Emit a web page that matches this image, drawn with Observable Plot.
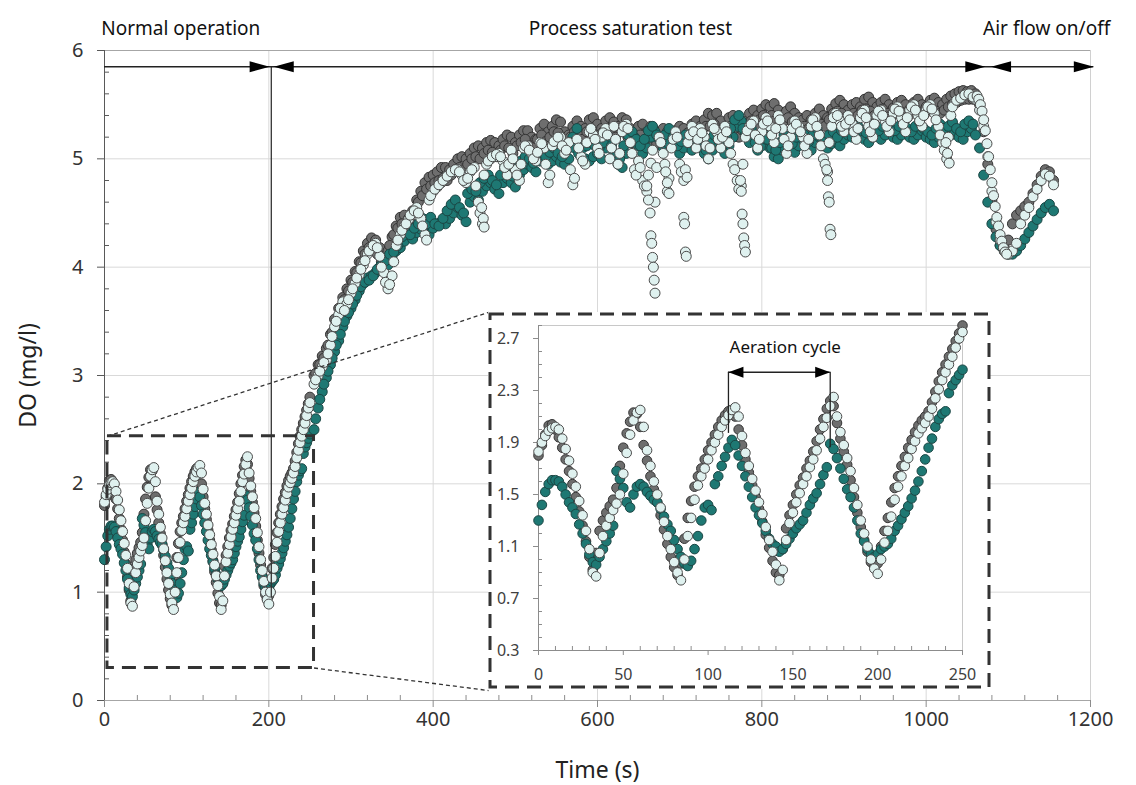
<!DOCTYPE html>
<html><head><meta charset="utf-8">
<script src="https://cdn.jsdelivr.net/npm/d3@7"></script>
<script src="https://cdn.jsdelivr.net/npm/@observablehq/plot@0.6"></script>
<style>
body{margin:0;background:#fff;}
#wrap{position:relative;width:1136px;height:785px;font-family:"Noto Sans",sans-serif;background:#fff;}
#wrap svg{position:absolute;}
</style></head><body><div id="wrap"></div>
<script>
// ---------- DATA ----------
// sample times (s)
const tA = d3.range(0, 251, 2);      // 0..250, every 2 s
const tB = d3.range(255, 1156, 5);   // 255..1155, every 5 s
const tC = d3.range(257, 1058, 5);   // 257..1057, in-between readings

// light (white-blue) series
const lightA = [
1.83,1.90,1.95,1.99,2.01,2.02,2.00,1.93,1.85,1.76,
1.66,1.56,1.45,1.34,1.22,1.08,0.90,0.87,1.05,1.18,
1.26,1.32,1.38,1.43,1.50,1.66,1.82,1.96,2.07,2.13,
2.15,2.02,1.84,1.72,1.60,1.50,1.40,1.29,1.18,1.08,
0.98,0.90,0.84,1.00,1.18,1.32,1.46,1.57,1.64,1.70,
1.77,1.84,1.90,1.96,2.02,2.07,2.11,2.15,2.17,2.10,
1.95,1.82,1.72,1.62,1.53,1.44,1.35,1.25,1.15,1.06,
0.96,0.84,0.92,1.15,1.28,1.36,1.44,1.51,1.58,1.64,
1.71,1.77,1.84,1.93,2.02,2.09,2.18,2.25,2.10,1.98,
1.88,1.78,1.68,1.55,1.42,1.30,1.20,1.10,1.00,0.93,
0.89,1.00,1.13,1.22,1.33,1.46,1.56,1.64,1.72,1.78,
1.85,1.91,1.97,2.01,2.05,2.10,2.16,2.24,2.31,2.38,
2.44,2.50,2.56,2.63,2.70,2.75];
const lightB = [
2.92,3.00,3.08,3.14,3.28,3.45,3.56,3.68,3.66,3.76,
3.85,3.93,4.02,4.12,4.18,4.22,4.10,3.95,3.80,3.92,
4.20,4.30,4.38,4.44,4.50,4.55,4.45,4.30,4.62,4.70,
4.74,4.78,4.82,4.86,4.88,4.90,4.85,4.78,4.88,4.92,
4.60,4.40,4.95,5.00,5.02,5.05,4.98,4.85,5.08,4.90,
4.80,5.10,5.12,5.05,4.98,5.15,5.10,4.78,5.12,5.18,
5.20,5.05,5.15,4.76,5.18,5.02,4.95,5.25,5.22,5.10,
5.20,5.28,5.00,5.30,4.95,5.25,5.32,5.15,4.90,4.98,
4.80,4.70,4.96,4.60,5.20,5.05,4.70,5.10,5.25,4.95,
4.80,5.15,5.30,5.10,5.28,5.20,5.00,5.32,5.25,5.10,
5.30,5.15,4.95,4.80,4.75,5.20,5.30,5.35,5.10,5.25,
5.38,5.30,5.15,5.40,5.28,5.05,5.20,5.35,5.30,5.20,
5.05,5.30,5.38,5.22,5.00,4.88,5.30,5.42,5.35,5.25,
5.40,5.32,5.18,5.38,5.45,5.30,5.20,5.40,5.45,5.35,
5.25,5.42,5.48,5.38,5.25,5.45,5.50,5.40,5.30,5.45,
5.50,5.42,5.30,5.15,5.00,5.40,5.52,5.55,5.58,5.60,
5.58,5.55,5.45,5.30,5.02,4.70,4.42,4.25,4.15,4.12,
4.15,4.22,4.40,4.48,4.55,4.65,4.72,4.80,4.86,4.84,
4.76];
const lightC = [
2.96,3.04,3.12,3.20,3.36,3.50,3.62,3.60,3.70,3.80,
3.90,3.98,4.06,4.15,4.20,4.18,4.00,3.86,3.84,4.05,
4.25,4.34,4.40,4.48,4.52,4.50,4.38,4.25,4.66,4.72,
4.76,4.80,4.84,4.88,4.90,4.88,4.80,4.82,4.90,4.75,
4.50,4.85,4.98,5.02,5.04,5.02,4.92,4.95,5.00,4.85,
4.95,5.12,5.08,5.00,5.06,5.14,4.95,4.85,5.16,5.20,
5.12,5.08,4.90,4.82,5.10,4.98,5.15,5.28,5.18,5.05,
5.24,5.22,5.10,5.18,5.05,5.30,5.28,5.05,4.85,4.92,
4.75,4.85,5.08,4.92,5.15,4.95,4.82,5.18,5.20,4.88,
4.90,5.22,5.25,5.18,5.24,5.12,5.10,5.28,5.18,5.20,
5.25,5.05,4.90,4.72,4.95,5.26,5.32,5.22,5.18,5.32,
5.35,5.22,5.28,5.36,5.18,5.12,5.28,5.32,5.25,5.12,
5.18,5.36,5.30,5.12,4.95,5.15,5.38,5.40,5.30,5.32,
5.36,5.25,5.28,5.42,5.38,5.25,5.32,5.44,5.40,5.30,
5.35,5.46,5.44,5.32,5.38,5.48,5.45,5.35,5.40,5.48,
5.46,5.36,5.22,5.08,5.20,5.48,5.54,5.56,5.59,5.60,
5.57];
// extra light readings in the fast dips / drop
const lightExtraT = [459,461,462, 660,662,664,665,666,667,668,669,670, 683,685,687,
  705,706,707,708,709, 774,775,776,777,778,779,780, 879,880,881,882,883,884, 1024,1026,1028,
  1062,1064,1066,1068,1070,1072,1074,1076,1078,1080,1082,1084,1086,1088,1090,1092,1094,1096,1098];
const lightExtraY = [4.55,4.45,4.37, 4.75,4.62,4.50,4.29,4.22,4.09,4.00,3.88,3.76, 4.88,4.78,4.68,
  4.46,4.40,4.14,4.10,4.83, 4.80,4.70,4.49,4.40,4.27,4.20,4.14, 4.90,4.80,4.65,4.60,4.35,4.30, 5.15,5.05,4.96,
  5.58,5.55,5.50,5.44,5.36,5.26,5.14,5.02,4.90,4.78,4.66,4.56,4.46,4.38,4.30,4.24,4.18,4.14,4.12];

// dark gray series
const grayA = [
1.80,1.88,1.96,2.03,2.04,2.00,1.94,1.86,1.77,1.68,
1.58,1.48,1.37,1.26,1.14,1.02,0.92,1.05,1.22,1.30,
1.36,1.41,1.46,1.55,1.72,1.86,1.97,2.06,2.13,2.12,
2.02,1.88,1.76,1.64,1.54,1.44,1.34,1.23,1.12,1.02,
0.94,0.88,0.97,1.16,1.32,1.45,1.56,1.64,1.70,1.77,
1.84,1.90,1.96,2.02,2.07,2.11,2.14,2.15,2.10,2.00,
1.88,1.77,1.67,1.57,1.48,1.39,1.29,1.19,1.09,0.99,
0.90,0.88,1.08,1.24,1.34,1.42,1.50,1.57,1.63,1.70,
1.76,1.83,1.91,2.00,2.08,2.16,2.22,2.18,2.05,1.93,
1.83,1.73,1.61,1.48,1.36,1.25,1.15,1.06,0.98,0.94,
0.97,1.10,1.22,1.32,1.44,1.55,1.64,1.72,1.79,1.86,
1.92,1.98,2.03,2.07,2.10,2.14,2.21,2.29,2.37,2.44,
2.50,2.56,2.62,2.68,2.74,2.80];
const grayB = [
3.00,3.10,3.18,3.25,3.38,3.52,3.62,3.72,3.80,3.88,
3.96,4.05,4.15,4.22,4.27,4.25,4.18,4.10,4.15,4.28,
4.38,4.46,4.48,4.45,4.52,4.62,4.70,4.78,4.83,4.85,
4.88,4.92,4.92,4.90,4.95,5.00,5.02,5.00,5.05,5.10,
5.12,5.10,5.15,5.17,5.15,5.12,5.18,5.22,5.20,5.15,
5.22,5.26,5.26,5.20,5.18,5.28,5.32,5.25,5.30,5.36,
5.34,5.25,5.22,5.30,5.35,5.30,5.28,5.36,5.38,5.32,
5.28,5.35,5.38,5.34,5.30,5.38,5.36,5.28,5.25,5.30,
5.32,5.25,5.30,5.26,5.22,5.28,5.25,5.20,5.26,5.30,
5.28,5.24,5.32,5.35,5.30,5.36,5.42,5.40,5.42,5.35,
5.30,5.38,5.40,5.32,5.28,5.35,5.42,5.45,5.40,5.46,
5.50,5.48,5.51,5.45,5.40,5.44,5.48,5.42,5.38,5.36,
5.40,5.36,5.42,5.46,5.40,5.38,5.46,5.51,5.54,5.50,
5.45,5.50,5.52,5.48,5.55,5.57,5.52,5.48,5.52,5.55,
5.50,5.47,5.52,5.54,5.50,5.46,5.52,5.55,5.50,5.48,
5.54,5.56,5.52,5.50,5.55,5.58,5.60,5.62,5.63,5.62,
5.63,5.60,5.50,5.25,4.95,4.62,4.35,4.20,4.18,4.25,
4.40,4.48,4.52,4.56,4.60,4.68,4.76,4.84,4.90,4.88,
4.80];
const grayC = [
3.02,3.10,3.16,3.28,3.40,3.50,3.62,3.70,3.78,3.86,
3.95,4.04,4.12,4.18,4.20,4.12,4.05,4.08,4.20,4.30,
4.36,4.40,4.36,4.42,4.52,4.60,4.66,4.72,4.75,4.78,
4.80,4.82,4.80,4.85,4.90,4.92,4.90,4.95,5.00,5.02,
5.00,5.05,5.08,5.06,5.02,5.08,5.12,5.10,5.05,5.12,
5.15,5.18,5.12,5.10,5.18,5.22,5.16,5.20,5.25,5.24,
5.18,5.12,5.20,5.25,5.22,5.18,5.25,5.28,5.22,5.18,
5.25,5.28,5.24,5.20,5.28,5.26,5.20,5.15,5.20,5.22,
5.16,5.20,5.18,5.14,5.18,5.15,5.12,5.18,5.20,5.18,
5.15,5.22,5.25,5.22,5.26,5.30,5.30,5.32,5.26,5.22,
5.26,5.30,5.24,5.20,5.26,5.32,5.35,5.30,5.36,5.40,
5.38,5.40,5.36,5.32,5.35,5.38,5.34,5.30,5.28,5.30,
5.28,5.32,5.36,5.32,5.30,5.36,5.42,5.44,5.42,5.38,
5.40,5.42,5.40,5.45,5.46,5.44,5.40,5.42,5.46,5.42,
5.40,5.42,5.45,5.42,5.38,5.42,5.46,5.42,5.40,5.44,
5.46,5.44,5.42,5.45,5.48,5.50,5.52,5.54,5.55,5.55,
5.55];

// teal series
const tealA = [
1.30,1.42,1.52,1.58,1.61,1.61,1.60,1.56,1.50,1.44,
1.40,1.35,1.27,1.20,1.12,1.04,0.98,0.96,1.02,1.08,
1.14,1.20,1.26,1.68,1.62,1.55,1.44,1.40,1.50,1.56,
1.58,1.56,1.52,1.49,1.46,1.44,1.39,1.33,1.27,1.22,
1.15,1.08,1.02,0.97,0.95,0.99,1.08,1.18,1.30,1.40,
1.42,1.38,1.58,1.64,1.72,1.79,1.86,1.92,1.88,1.80,
1.72,1.64,1.56,1.48,1.40,1.34,1.28,1.22,1.16,1.12,
1.10,1.06,1.08,1.12,1.16,1.20,1.24,1.27,1.30,1.36,
1.42,1.47,1.51,1.58,1.65,1.71,1.89,1.85,1.78,1.70,
1.62,1.54,1.48,1.40,1.30,1.20,1.14,1.08,1.04,1.02,
1.04,1.08,1.10,1.12,1.16,1.22,1.26,1.31,1.36,1.41,
1.47,1.53,1.60,1.68,1.77,1.86,1.93,2.02,2.08,2.12,
2.14,2.28,2.34,2.38,2.42,2.46];
const tealB = [
2.50,2.70,2.85,2.98,3.10,3.22,3.32,3.45,3.55,3.62,
3.70,3.78,3.85,3.90,3.92,3.95,4.00,4.05,4.02,4.10,
4.15,4.18,4.24,4.30,4.26,4.32,4.35,4.38,4.30,4.36,
4.40,4.42,4.40,4.45,4.50,4.55,4.48,4.42,4.60,4.65,
4.62,4.70,4.75,4.78,4.72,4.68,4.78,4.82,4.78,4.74,
4.85,4.90,4.95,4.92,4.88,4.98,5.00,4.95,4.98,5.02,
4.97,4.95,5.00,5.20,5.28,5.10,5.00,4.98,5.02,5.05,
5.00,5.10,5.18,5.05,4.95,4.92,5.05,5.15,5.20,5.12,
5.05,5.10,5.20,5.25,5.18,5.10,5.15,5.22,5.12,5.05,
5.10,5.15,5.08,5.12,5.18,5.05,5.00,5.08,5.15,5.10,
5.05,5.12,5.20,5.30,5.35,5.22,5.15,5.20,5.08,5.12,
5.18,5.10,5.02,5.00,5.08,5.15,5.10,5.06,5.12,5.18,
5.14,5.08,5.15,5.20,5.12,5.10,5.14,5.16,5.12,5.18,
5.22,5.20,5.24,5.22,5.18,5.15,5.20,5.24,5.18,5.22,
5.26,5.20,5.18,5.22,5.25,5.20,5.18,5.22,5.26,5.20,
5.18,5.15,5.20,5.24,5.20,5.22,5.26,5.20,5.18,5.25,
5.28,5.22,5.10,4.85,4.60,4.40,4.28,4.20,4.15,4.12,
4.12,4.15,4.20,4.26,4.32,4.38,4.44,4.50,4.55,4.58,
4.52];
const tealC = [
2.60,2.78,2.92,3.04,3.16,3.28,3.38,3.50,3.58,3.66,
3.74,3.82,3.86,3.88,3.92,3.98,4.02,4.06,4.12,4.14,
4.20,4.28,4.34,4.30,4.36,4.40,4.45,4.40,4.46,4.40,
4.38,4.45,4.52,4.58,4.62,4.55,4.50,4.68,4.72,4.70,
4.78,4.82,4.85,4.80,4.76,4.85,4.92,4.88,4.84,4.92,
4.98,5.02,5.00,4.96,5.05,5.08,5.02,5.06,5.10,5.05,
5.02,5.08,5.15,5.10,5.05,5.10,5.12,5.15,5.12,5.10,
5.15,5.22,5.12,5.02,5.00,5.12,5.22,5.25,5.18,5.12,
5.18,5.26,5.30,5.22,5.16,5.22,5.28,5.20,5.12,5.16,
5.22,5.15,5.20,5.26,5.12,5.08,5.15,5.22,5.18,5.12,
5.20,5.28,5.36,5.40,5.28,5.22,5.28,5.15,5.20,5.26,
5.18,5.10,5.08,5.15,5.22,5.18,5.14,5.20,5.25,5.22,
5.16,5.22,5.28,5.20,5.18,5.22,5.25,5.20,5.26,5.30,
5.28,5.32,5.30,5.26,5.24,5.28,5.32,5.26,5.30,5.34,
5.28,5.26,5.30,5.32,5.28,5.25,5.30,5.34,5.28,5.25,
5.22,5.28,5.32,5.28,5.30,5.34,5.28,5.25,5.32,5.35,
5.32];

// tick labels
const mainXTicks = [0,200,400,600,800,1000,1200];
const mainYTicks = [0,1,2,3,4,5,6];
const insetXTicks = [0,50,100,150,200,250];
const insetYTicks = [0.3,0.7,1.1,1.5,1.9,2.3,2.7];
const phaseLabels = ["Normal operation","Process saturation test","Air flow on/off"];

// ---------- BUILD ----------
const rows = (ts, ys) => ts.map((t, i) => ({t, v: ys[i]}));
const grayData = rows(tA, grayA).concat(rows(tB, grayB), rows(tC, grayC));
const tealData = rows(tA, tealA).concat(rows(tB, tealB), rows(tC, tealC));
const lightData = rows(tA, lightA).concat(rows(tB, lightB), rows(tC, lightC), rows(lightExtraT, lightExtraY));
const inWin = d => d.t <= 250;

const mainXMinor = d3.range(0, 1201, 40).filter(v => v % 200 !== 0);
const mainYMinor = d3.range(0, 6.001, 0.2).map(v => +v.toFixed(1)).filter(v => Math.abs(v - Math.round(v)) > 1e-6);
const insetXMinor = d3.range(0, 251, 10).filter(v => v % 50 !== 0);
const insetYMinor = d3.range(0.3, 2.801, 0.1).map(v => +v.toFixed(1)).filter(v => !insetYTicks.includes(v));

const arrowR = {draw(c){c.moveTo(0,0);c.lineTo(-20,-5.5);c.lineTo(-20,5.5);c.closePath();}};
const arrowL = {draw(c){c.moveTo(0,0);c.lineTo(20,-5.5);c.lineTo(20,5.5);c.closePath();}};
const arrowRs = {draw(c){c.moveTo(0,0);c.lineTo(-15,-5.5);c.lineTo(-15,5.5);c.closePath();}};
const arrowLs = {draw(c){c.moveTo(0,0);c.lineTo(15,-5.5);c.lineTo(15,5.5);c.closePath();}};

const dotStyle = {
  gray:  {fill: "#6e6e6e", stroke: "#333333"},
  teal:  {fill: "#1e7873", stroke: "#1b4644"},
  light: {fill: "#dff1ef", stroke: "#4a4a4a"}
};
const FONT = "'Noto Sans', sans-serif";
const fmtInt = d3.format("d");

const main = Plot.plot({
  width: 1136, height: 785,
  marginLeft: 104, marginRight: 46, marginTop: 50, marginBottom: 85,
  x: {domain: [0, 1200]},
  y: {domain: [0, 6]},
  style: {fontFamily: FONT, fontSize: "18px", color: "#333", background: "transparent", overflow: "visible"},
  marks: [
    Plot.gridY([1,2,3,4,5], {stroke: "#d9d9d9", strokeOpacity: 1}),
    Plot.gridX([200,400,600,800,1000], {stroke: "#d9d9d9", strokeOpacity: 1}),
    Plot.ruleY([6], {stroke: "#a6a6a6"}),
    Plot.ruleX([1200], {stroke: "#d0d0d0"}),
    Plot.ruleY([0], {stroke: "#a6a6a6"}),
    Plot.ruleX([0], {stroke: "#595959"}),
    Plot.axisY(mainYTicks, {anchor: "left", tickSize: 7, tickPadding: 14, fontSize: 20, tickFormat: fmtInt, label: null, stroke: "#595959"}),
    Plot.axisY(mainYMinor, {anchor: "left", tickSize: -5, tickFormat: () => "", label: null, stroke: "#595959"}),
    Plot.axisX(mainXTicks, {anchor: "bottom", tickSize: 7, tickPadding: 4, fontSize: 20, tickFormat: fmtInt, label: null, stroke: "#8c8c8c"}),
    Plot.axisX(mainXMinor, {anchor: "bottom", tickSize: -5, tickFormat: () => "", label: null, stroke: "#8c8c8c"}),
    Plot.dot(grayData, {x: "t", y: "v", r: 5, ...dotStyle.gray, strokeWidth: 1}),
    Plot.dot(tealData, {x: "t", y: "v", r: 5, ...dotStyle.teal, strokeWidth: 1}),
    Plot.dot(lightData, {x: "t", y: "v", r: 5, ...dotStyle.light, strokeWidth: 1}),
    // zoom window and connectors
    Plot.rect([{x1: 3.6, x2: 255, y1: 0.3, y2: 2.44}], {x1: "x1", x2: "x2", y1: "y1", y2: "y2", fill: "none", stroke: "#333", strokeWidth: 3, strokeDasharray: "14,8"}),
    Plot.link([{x1: 3.6, y1: 2.44, x2: 467.4, y2: 3.583}, {x1: 255, y1: 0.3, x2: 467.4, y2: 0.092}],
      {x1: "x1", y1: "y1", x2: "x2", y2: "y2", stroke: "#333", strokeWidth: 1.3, strokeDasharray: "4,3"}),
    // phase annotations
    Plot.ruleX([203], {y1: 0.95, y2: 5.85, stroke: "#333", strokeWidth: 1.3}),
    Plot.ruleY([5.85], {x1: 0, x2: 1204, stroke: "#222", strokeWidth: 1.5}),
    Plot.dot([201, 1072, 1204], {x: d => d, y: () => 5.85, symbol: arrowR, fill: "#000", stroke: "none"}),
    Plot.dot([206, 1079], {x: d => d, y: () => 5.85, symbol: arrowL, fill: "#000", stroke: "none"}),
    Plot.text([phaseLabels[0]], {x: () => -4, y: () => 6.2, textAnchor: "start", fontSize: 19, fill: "#111"}),
    Plot.text([phaseLabels[1]], {x: () => 640, y: () => 6.2, textAnchor: "middle", fontSize: 19, fill: "#111"}),
    Plot.text([phaseLabels[2]], {x: () => 1224, y: () => 6.2, textAnchor: "end", fontSize: 19, fill: "#111"}),
    // axis titles
    Plot.text(["DO (mg/l)"], {frameAnchor: "left", textAnchor: "middle", rotate: -90, dx: -76, fontSize: 23, fill: "#222"}),
    Plot.text(["Time (s)"], {frameAnchor: "bottom", textAnchor: "middle", lineAnchor: "middle", dy: 70, fontSize: 23, fill: "#222"})
  ]
});
main.style.left = "0px"; main.style.top = "0px";

const inset = Plot.plot({
  width: 502, height: 377,
  marginLeft: 50, marginRight: 28, marginTop: 13, marginBottom: 39,
  x: {domain: [0, 250]},
  y: {domain: [0.3, 2.8]},
  style: {fontFamily: FONT, fontSize: "16px", color: "#404040", background: "#fff", overflow: "visible"},
  marks: [
    Plot.frame({stroke: "#c8c8c8"}),
    Plot.ruleX([0], {stroke: "#8c8c8c"}),
    Plot.ruleY([0.3], {stroke: "#8c8c8c"}),
    Plot.axisY(insetYTicks, {anchor: "left", tickSize: 5, tickPadding: 14, tickFormat: d3.format(".1f"), label: null, stroke: "#8c8c8c"}),
    Plot.axisY(insetYMinor, {anchor: "left", tickSize: -4, tickFormat: () => "", label: null, stroke: "#8c8c8c"}),
    Plot.axisX(insetXTicks, {anchor: "bottom", tickSize: 5, tickPadding: 13, label: null, stroke: "#8c8c8c"}),
    Plot.axisX(insetXMinor, {anchor: "bottom", tickSize: -4, tickFormat: () => "", label: null, stroke: "#8c8c8c"}),
    Plot.dot(grayData.filter(inWin), {x: "t", y: "v", r: 4.8, ...dotStyle.gray, strokeWidth: 1}),
    Plot.dot(tealData.filter(inWin), {x: "t", y: "v", r: 4.8, ...dotStyle.teal, strokeWidth: 1}),
    Plot.dot(lightData.filter(inWin), {x: "t", y: "v", r: 4.8, ...dotStyle.light, strokeWidth: 1}),
    // aeration cycle annotation
    Plot.ruleY([2.44], {x1: 112, x2: 172, stroke: "#222", strokeWidth: 1.4}),
    Plot.ruleX([{x: 112, y1: 1.97}, {x: 172, y1: 1.86}], {x: "x", y1: "y1", y2: () => 2.44, stroke: "#222", strokeWidth: 1.3}),
    Plot.dot([112], {x: d => d, y: () => 2.44, symbol: arrowLs, fill: "#000", stroke: "none"}),
    Plot.dot([172], {x: d => d, y: () => 2.44, symbol: arrowRs, fill: "#000", stroke: "none"}),
    Plot.text(["Aeration cycle"], {x: () => 145.5, y: () => 2.63, fontSize: 17, fill: "#111"}),
    // dashed outer box
    Plot.frame({stroke: "#333", strokeWidth: 3, strokeDasharray: "14,8", insetLeft: -48.5, insetRight: -26.5, insetTop: -11.5, insetBottom: -36.5})
  ]
});
inset.style.left = "488px"; inset.style.top = "312px";

const wrap = document.getElementById("wrap");
wrap.appendChild(main);
wrap.appendChild(inset);
</script>
</body></html>
